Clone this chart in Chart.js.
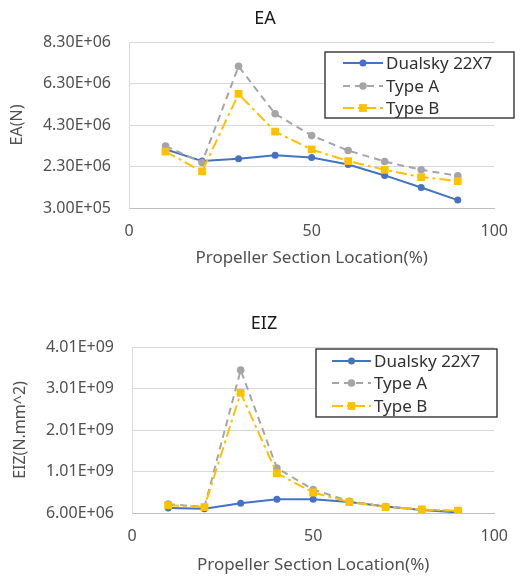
<!DOCTYPE html>
<html>
<head>
<meta charset="utf-8">
<script src="https://cdn.jsdelivr.net/npm/chart.js@4/dist/chart.umd.min.js"></script>
<style>
  html, body { margin: 0; padding: 0; background: #fff; }
  #wrap { position: relative; width: 522px; height: 577px; }
  .box { position: absolute; left: 0; width: 522px; }
</style>
</head>
<body>
<div id="wrap">
  <div class="box" style="top:0;height:288px"><canvas id="eaChart"></canvas></div>
  <div class="box" style="top:290px;height:287px"><canvas id="eizChart"></canvas></div>
</div>
<script>
// section location (%)
const positions = [10, 20, 30, 40, 50, 60, 70, 80, 90];
const xTicks = [0, 50, 100];

// EA (N)
const eaDualsky = [3.13e6, 2.56e6, 2.67e6, 2.84e6, 2.73e6, 2.40e6, 1.87e6, 1.29e6, 0.68e6];
const eaTypeA = [3.29e6, 2.49e6, 7.13e6, 4.84e6, 3.79e6, 3.07e6, 2.54e6, 2.14e6, 1.85e6];
const eaTypeB = [3.02e6, 2.06e6, 5.80e6, 3.98e6, 3.12e6, 2.56e6, 2.14e6, 1.79e6, 1.60e6];
const eaTicks = [3.0e5, 2.3e6, 4.3e6, 6.3e6, 8.3e6];

// EIZ (N.mm^2)
const eizDualsky = [0.126e9, 0.11e9, 0.24e9, 0.335e9, 0.335e9, 0.27e9, 0.16e9, 0.08e9, 0.02e9];
const eizTypeA = [0.22e9, 0.15e9, 3.45e9, 1.09e9, 0.57e9, 0.29e9, 0.16e9, 0.09e9, 0.05e9];
const eizTypeB = [0.19e9, 0.15e9, 2.90e9, 0.96e9, 0.50e9, 0.27e9, 0.15e9, 0.09e9, 0.06e9];
const eizTicks = [6.0e6, 1.006e9, 2.006e9, 3.006e9, 4.006e9];

const seriesNames = ['Dualsky 22X7', 'Type A', 'Type B'];

const FONT = "'Noto Sans', sans-serif";
const TEXT = '#505050';

function sci(v) {
    const [m, e] = v.toExponential(2).split('e');
    const n = Math.abs(parseInt(e, 10));
    return m + 'E' + (e[0] === '-' ? '-' : '+') + (n < 10 ? '0' + n : n);
}

function pts(values) {
    return positions.map((x, i) => ({ x: x, y: values[i] }));
}

// legend drawn as a framed box inside the plot, like the original
const boxLegend = {
    id: 'boxLegend',
    afterDraw(chart, args, opts) {
        const ctx = chart.ctx;
        ctx.save();
        ctx.fillStyle = '#fff';
        ctx.fillRect(opts.x, opts.y, opts.w, opts.h);
        ctx.strokeStyle = '#262626';
        ctx.lineWidth = 1.3;
        ctx.strokeRect(opts.x, opts.y, opts.w, opts.h);
        chart.data.datasets.forEach((ds, i) => {
            const y = opts.y + opts.rows[i];
            const x0 = opts.x + opts.lineX;
            ctx.strokeStyle = ds.borderColor;
            ctx.lineWidth = ds.borderWidth;
            ctx.setLineDash(ds.borderDash || []);
            ctx.beginPath();
            ctx.moveTo(x0, y);
            ctx.lineTo(x0 + opts.lineW, y);
            ctx.stroke();
            ctx.setLineDash([]);
            ctx.fillStyle = ds.pointBackgroundColor;
            Chart.helpers.drawPoint(ctx, {
                pointStyle: ds.pointStyle, radius: ds.pointRadius, borderWidth: 0
            }, x0 + opts.lineW / 2, y);
            ctx.fillStyle = '#303030';
            ctx.font = '17px ' + FONT;
            ctx.textBaseline = 'middle';
            ctx.fillText(seriesNames[i], x0 + opts.lineW + 3, y + 1);
        });
        ctx.restore();
    }
};

function makeChart(id, cfg) {
    const datasets = [
        {
            label: seriesNames[0], data: pts(cfg.values[0]),
            borderColor: '#4472C4', pointBackgroundColor: '#4472C4', pointBorderWidth: 0,
            borderWidth: 2, pointRadius: 3.5, pointStyle: 'circle', order: 3
        },
        {
            label: seriesNames[1], data: pts(cfg.values[1]),
            borderColor: '#A5A5A5', pointBackgroundColor: '#A5A5A5', pointBorderWidth: 0,
            borderWidth: 2, borderDash: [7, 5], pointRadius: 3.8, pointStyle: 'circle', order: 2
        },
        {
            label: seriesNames[2], data: pts(cfg.values[2]),
            borderColor: '#FFC000', pointBackgroundColor: '#FFC000', pointBorderWidth: 0,
            borderWidth: 2, borderDash: [11, 4, 3, 4], pointRadius: 5.5, pointStyle: 'rect', order: 1
        }
    ];

    return new Chart(document.getElementById(id), {
        type: 'line',
        data: { datasets: datasets },
        plugins: [boxLegend],
        options: {
            responsive: true,
            maintainAspectRatio: false,
            animation: false,
            layout: { padding: { left: cfg.padLeft, right: cfg.padRight, top: 0, bottom: 0 } },
            plugins: {
                legend: { display: false },
                tooltip: { enabled: false },
                title: {
                    display: true, text: cfg.title, color: '#1a1a1a',
                    font: { family: FONT, size: 18, weight: 'normal' },
                    padding: cfg.titlePad
                },
                boxLegend: cfg.legend
            },
            scales: {
                x: {
                    type: 'linear', min: 0, max: 100,
                    afterBuildTicks: s => { s.ticks = xTicks.map(v => ({ value: v })); },
                    afterFit: s => { s.height = cfg.xHeight; },
                    grid: { display: false, drawTicks: false },
                    border: { display: true, color: '#BFBFBF', width: 1 },
                    ticks: { color: TEXT, font: { family: FONT, size: 16 }, padding: 14, maxRotation: 0 },
                    title: {
                        display: true, text: 'Propeller Section Location(%)', color: TEXT,
                        font: { family: FONT, size: 17 }, padding: { top: 0, bottom: cfg.xTitlePad }
                    }
                },
                y: {
                    min: cfg.yTicks[0], max: cfg.yTicks[cfg.yTicks.length - 1],
                    afterBuildTicks: s => { s.ticks = cfg.yTicks.map(v => ({ value: v })); },
                    afterFit: s => { s.width = cfg.yWidth; },
                    grid: { color: '#D9D9D9', lineWidth: 1, drawTicks: false },
                    border: { display: true, color: '#D9D9D9', width: 1 },
                    ticks: {
                        color: TEXT, font: { family: FONT, size: 16 }, padding: 18,
                        callback: v => sci(v)
                    },
                    title: {
                        display: true, text: cfg.yTitle, color: TEXT,
                        font: { family: FONT, size: 16 }, padding: { top: cfg.yTitlePad, bottom: 0 }
                    }
                }
            }
        }
    });
}

makeChart('eaChart', {
    title: 'EA',
    yTitle: 'EA(N)',
    values: [eaDualsky, eaTypeA, eaTypeB],
    yTicks: eaTicks,
    padLeft: 27,
    padRight: 19,
    titlePad: { top: 8.2, bottom: 12.2 },
    xHeight: 80,
    xTitlePad: 19.8,
    yWidth: 102,
    yTitlePad: -19.6,
    legend: { x: 325, y: 52, w: 189, h: 66, rows: [11, 34, 56], lineX: 18, lineW: 40 }
});

makeChart('eizChart', {
    title: 'EIZ',
    yTitle: 'EIZ(N.mm^2)',
    values: [eizDualsky, eizTypeA, eizTypeB],
    yTicks: eizTicks,
    padLeft: 21,
    padRight: 15,
    titlePad: { top: 22.7, bottom: 12.7 },
    xHeight: 64,
    xTitlePad: 1.8,
    yWidth: 111,
    yTitlePad: -10.6,
    legend: { x: 316, y: 59, w: 181, h: 68, rows: [12, 34, 57], lineX: 16, lineW: 39 }
});
</script>
</body>
</html>
